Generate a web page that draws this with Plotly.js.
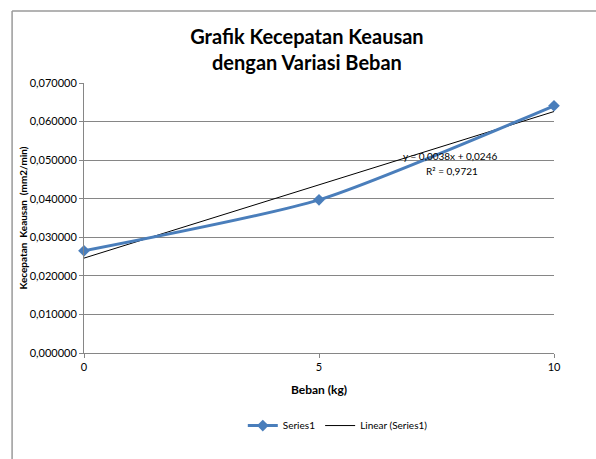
<!DOCTYPE html>
<html><head><meta charset="utf-8">
<script src="https://cdn.plot.ly/plotly-3.0.1.min.js"></script>
<style>html,body{margin:0;padding:0;background:#fff;}#chart{width:596px;height:459px;}</style>
</head><body><div id="chart"></div>
<script>
// Data
const beban = [0, 5, 10];
const kecepatan = [0.0265, 0.0397, 0.0641];
const trendX = [0, 10];
const trendY = [0.0246, 0.0626];
const yTicks = [0, 0.01, 0.02, 0.03, 0.04, 0.05, 0.06, 0.07];
const xTicks = [0, 5, 10];
const eqText = 'y = 0,0038x + 0,0246';
const r2Text = 'R² = 0,9721';

const fontFam = 'Lato, "Open Sans", sans-serif';
const traces = [
  {x: trendX, y: trendY, name: 'Linear (Series1)', mode: 'lines',
   line: {color: '#000000', width: 1}, showlegend: true},
  {x: beban, y: kecepatan, name: 'Series1', mode: 'lines+markers', cliponaxis: false,
   line: {color: '#4a7ebb', width: 3, shape: 'spline', smoothing: 0.6},
   marker: {symbol: 'diamond', size: 9, color: '#4a7ebb'}}
];
const layout = {
  width: 596, height: 459,
  margin: {l: 84, r: 42, t: 83, b: 106},
  paper_bgcolor: '#ffffff', plot_bgcolor: '#ffffff',
  separators: ',.',
  font: {family: fontFam, color: '#404040', size: 11},
  title: {text: 'Grafik Kecepatan Keausan<br>dengan Variasi Beban', x: 0.515, xanchor: 'center',
          yref: 'container', y: 0.905, yanchor: 'middle',
          font: {family: fontFam, size: 20, color: '#000000', weight: 'bold'}},
  xaxis: {range: [0, 10], tickvals: xTicks, ticktext: xTicks.map(String), showgrid: false, zeroline: false, automargin: false,
          showline: true, linecolor: '#868686', linewidth: 1, ticks: 'outside', ticklen: 4, tickcolor: '#868686',
          tickfont: {size: 11, color: '#000000'},
          title: {text: 'Beban (kg)', font: {size: 12, color: '#000000', weight: 'bold'}, standoff: 13}},
  yaxis: {range: [0, 0.07], tickvals: yTicks, tickformat: '.6f', showgrid: true, gridcolor: '#868686', gridwidth: 1, automargin: false,
          zeroline: false, showline: true, linecolor: '#868686', linewidth: 1, ticks: 'outside', ticklen: 4, tickcolor: '#868686',
          tickfont: {size: 11, color: '#000000'},
          title: {text: 'Kecepatan  Keausan  (mm2/min)', font: {size: 10, color: '#000000', weight: 'bold'}, standoff: 0}},
  showlegend: true,
  legend: {orientation: 'h', traceorder: 'reversed', x: 0.54, xanchor: 'center', y: -0.215, yanchor: 'top', font: {size: 10, color: '#000000'}},
  annotations: [
    {xref: 'paper', yref: 'paper', x: 0.674, y: 0.73, xanchor: 'left', yanchor: 'middle', text: eqText, showarrow: false,
     font: {size: 10, color: '#000000'}},
    {xref: 'paper', yref: 'paper', x: 0.724, y: 0.675, xanchor: 'left', yanchor: 'middle', text: r2Text, showarrow: false,
     font: {size: 10, color: '#000000'}}
  ],
  shapes: [
    {type: 'line', xref: 'paper', yref: 'paper', x0: -0.153, x1: -0.153, y0: -0.4, y1: 1.267, line: {color: '#9a9a9a', width: 1.5}},
    {type: 'line', xref: 'paper', yref: 'paper', x0: -0.153, x1: 1.1, y0: 1.267, y1: 1.267, line: {color: '#9a9a9a', width: 1.5}}
  ]
};
Plotly.newPlot('chart', traces, layout, {displayModeBar: false, staticPlot: true});
</script></body></html>
